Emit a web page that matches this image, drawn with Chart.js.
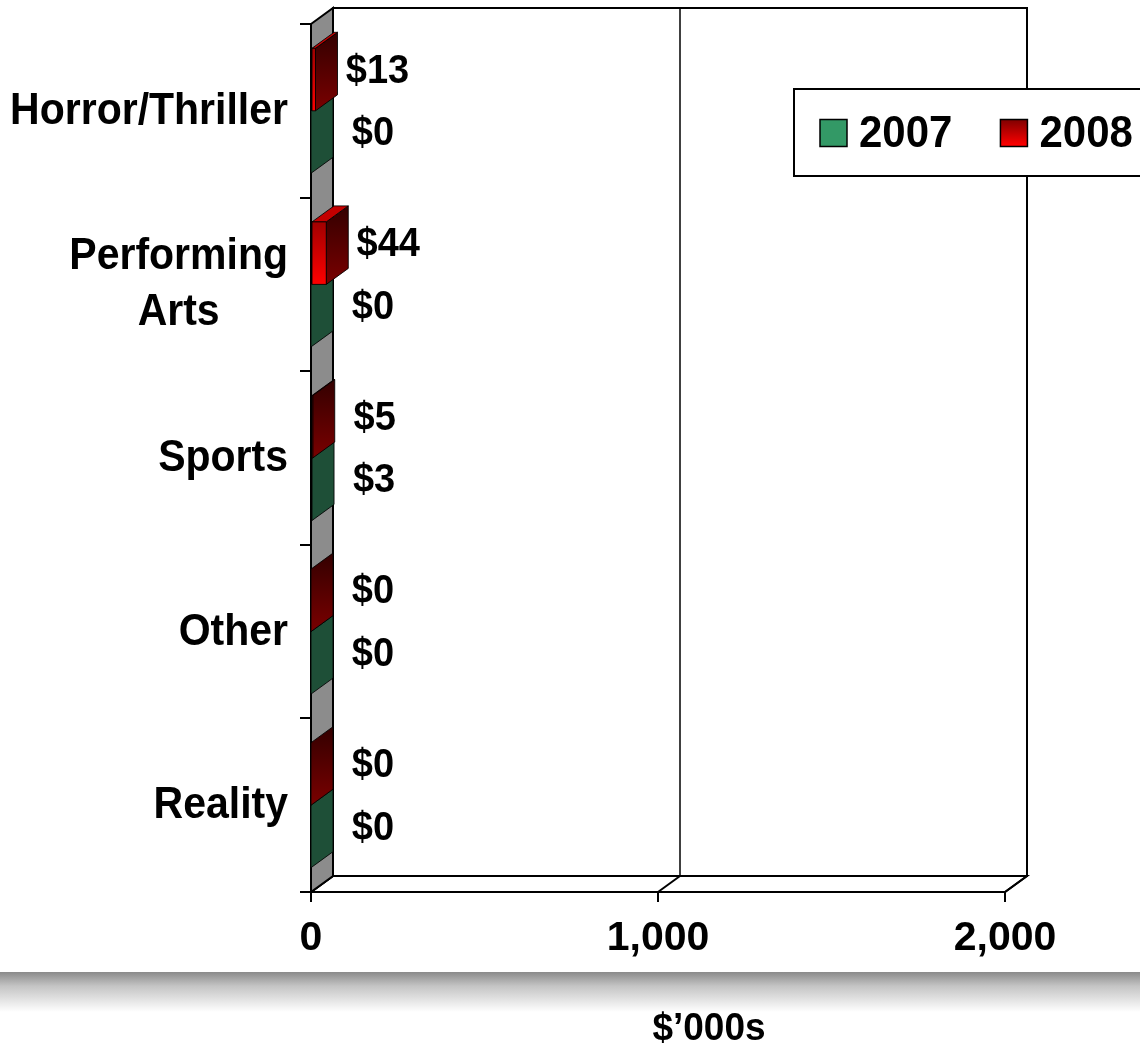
<!DOCTYPE html>
<html lang="en">
<head>
  <meta charset="UTF-8" />
  <title>Revenue by genre - 2007 vs 2008</title>
  <script src="https://cdn.jsdelivr.net/npm/chart.js"></script>
  <style>
    body {
      margin: 0;
      padding: 0;
      background: #fff;
      font-family: 'Liberation Sans', Arial, sans-serif;
    }

    #wrap {
      position: relative;
      width: 1140px;
      height: 1046px;
      overflow: hidden;
    }

    #band {
      position: absolute;
      left: 0;
      right: 0;
      top: 972px;
      height: 40px;
      background: linear-gradient(#8a8a8a, #c4c4c4 35%, #fff);
    }

    #chartBox {
      position: absolute;
      left: 0;
      top: 0;
      width: 1140px;
      height: 1046px;
    }
  </style>
</head>
<body>
  <div id="wrap">
    <div id="band"></div>
    <div id="chartBox">
      <canvas id="genreChart"></canvas>
    </div>
  </div>

  <script>
    const categories = ['Horror/Thriller', ['Performing', 'Arts'], 'Sports', 'Other', 'Reality'];
    const values2007 = [0, 0, 3, 0, 0];
    const values2008 = [13, 44, 5, 0, 0];
    const xTicks = [0, 1000, 2000];
    const axisTitle = '$\u2019000s';

    const FONT = "'Liberation Sans', Arial, sans-serif";
    const DX = 22;   // depth of the 3d box
    const DY = 16;
    const STRETCH = 1.06; // the original text is a bit taller than Arial

    // face colours of each series
    const looks = {
      '2007': { front: ['#339966', '#339966'], side: ['#1e4f37', '#1e4f37'], top: '#2b7d55', key: ['#339966', '#339966'] },
      '2008': { front: ['#a00000', '#ff0000'], side: ['#330000', '#7a0000'], top: '#c40000', key: ['#800000', '#ff0000'] }
    };

    function vgrad(ctx, y0, y1, c) {
      const g = ctx.createLinearGradient(0, y0, 0, y1);
      g.addColorStop(0, c[0]);
      g.addColorStop(1, c[1]);
      return g;
    }

    function poly(ctx, pts, fill) {
      ctx.beginPath();
      ctx.moveTo(pts[0][0], pts[0][1]);
      for (let i = 1; i < pts.length; i++) ctx.lineTo(pts[i][0], pts[i][1]);
      ctx.closePath();
      if (fill) { ctx.fillStyle = fill; ctx.fill(); }
      ctx.stroke();
    }

    function tallText(ctx, t, x, y) {
      ctx.save();
      ctx.translate(x, y);
      ctx.scale(1, STRETCH);
      ctx.fillText(t, 0, 0);
      ctx.restore();
    }

    const box3d = {
      id: 'box3d',
      beforeDatasetsDraw(chart) {
        const { ctx, chartArea: a, scales: { x } } = chart;
        ctx.save();
        ctx.strokeStyle = '#000';
        ctx.lineWidth = 2;

        // back wall
        ctx.fillStyle = '#fff';
        ctx.fillRect(a.left + DX, a.top - DY, a.right - a.left, a.bottom - a.top);
        ctx.strokeRect(a.left + DX, a.top - DY, a.right - a.left, a.bottom - a.top);
        ctx.lineWidth = 1.5;
        xTicks.forEach(v => {
          const px = x.getPixelForValue(v);
          if (v > 0 && v < x.max) {
            ctx.beginPath();
            ctx.moveTo(px + DX, a.top - DY);
            ctx.lineTo(px + DX, a.bottom - DY);
            ctx.stroke();
          }
        });

        // floor
        ctx.lineWidth = 2;
        poly(ctx, [[a.left, a.bottom], [a.right, a.bottom], [a.right + DX, a.bottom - DY], [a.left + DX, a.bottom - DY]], '#fff');
        xTicks.forEach(v => {
          const px = x.getPixelForValue(v);
          ctx.beginPath();
          ctx.moveTo(px, a.bottom);
          ctx.lineTo(px + DX, a.bottom - DY);
          ctx.stroke();
        });

        // side wall
        poly(ctx, [[a.left, a.top], [a.left + DX, a.top - DY], [a.left + DX, a.bottom - DY], [a.left, a.bottom]], '#8c8c8c');
        ctx.restore();
      },

      afterDatasetsDraw(chart) {
        const { ctx } = chart;
        const bars = [];
        chart.data.datasets.forEach((ds, i) => {
          chart.getDatasetMeta(i).data.forEach((el, j) => {
            const p = el.getProps(['x', 'y', 'base', 'height'], true);
            bars.push({ p, look: looks[ds.label], value: ds.data[j] });
          });
        });
        // lower bars first so upper ones cover their top faces
        bars.sort((a, b) => b.p.y - a.p.y);

        ctx.save();
        ctx.strokeStyle = 'rgba(0,0,0,0.85)';
        ctx.lineWidth = 1;
        ctx.lineJoin = 'round';
        bars.forEach(({ p, look }) => {
          const top = p.y - p.height / 2;
          const bot = p.y + p.height / 2;
          const l = Math.min(p.base, p.x);
          const r = Math.max(p.base, p.x);
          poly(ctx, [[r, top], [r + DX, top - DY], [r + DX, bot - DY], [r, bot]], vgrad(ctx, top - DY, bot, look.side));
          if (r - l > 0.5) {
            poly(ctx, [[l, top], [r, top], [r + DX, top - DY], [l + DX, top - DY]], look.top);
            ctx.fillStyle = vgrad(ctx, top, bot, look.front);
            ctx.fillRect(l, top, r - l, bot - top);
            ctx.strokeRect(l, top, r - l, bot - top);
          }
        });

        // value labels
        ctx.fillStyle = '#000';
        ctx.font = 'bold 38px ' + FONT;
        ctx.textAlign = 'center';
        ctx.textBaseline = 'middle';
        bars.forEach(({ p, value }) => {
          const r = Math.max(p.base, p.x);
          tallText(ctx, '$' + value, r + DX + 40, p.y - DY / 2);
        });
        ctx.restore();
      },

      afterDraw(chart) {
        const { ctx, chartArea: a, scales: { y } } = chart;
        ctx.save();
        ctx.fillStyle = '#000';
        ctx.textBaseline = 'middle';
        ctx.textAlign = 'center';

        // category names, multi-line blocks centred and right aligned
        ctx.font = 'bold 41px ' + FONT;
        chart.data.labels.forEach((lab, i) => {
          const lines = Array.isArray(lab) ? lab : [lab];
          const w = Math.max(...lines.map(t => ctx.measureText(t).width));
          const cx = a.left - 23 - w / 2;
          const yc = y.getPixelForValue(i) + 1;
          lines.forEach((t, k) => {
            tallText(ctx, t, cx, yc + (k - (lines.length - 1) / 2) * 56);
          });
        });

        // axis title
        ctx.font = 'bold 37px ' + FONT;
        tallText(ctx, axisTitle, (a.left + a.right) / 2 + 51, 1029);

        // legend
        const lx = 794, ly = 89, lh = 87;
        ctx.strokeStyle = '#000';
        ctx.lineWidth = 2;
        ctx.fillStyle = '#fff';
        ctx.fillRect(lx, ly, 360, lh);
        ctx.strokeRect(lx, ly, 360, lh);
        ctx.font = 'bold 42px ' + FONT;
        ctx.textAlign = 'left';
        let cx = lx + 26;
        const cy = ly + lh / 2;
        chart.data.datasets.slice().reverse().forEach(ds => {
          const look = looks[ds.label];
          ctx.fillStyle = vgrad(ctx, cy - 13, cy + 13, look.key);
          ctx.fillRect(cx, cy - 13, 27, 27);
          ctx.lineWidth = 1.5;
          ctx.strokeRect(cx, cy - 13, 27, 27);
          ctx.fillStyle = '#000';
          tallText(ctx, ds.label, cx + 39, cy + 2);
          cx += 39 + ctx.measureText(ds.label).width + 48;
        });
        ctx.restore();
      }
    };

    new Chart(document.getElementById('genreChart'), {
      type: 'bar',
      data: {
        labels: categories,
        datasets: [
          { label: '2008', data: values2008, backgroundColor: '#c00000', borderWidth: 0 },
          { label: '2007', data: values2007, backgroundColor: '#339966', borderWidth: 0 }
        ]
      },
      options: {
        indexAxis: 'y',
        responsive: true,
        maintainAspectRatio: false,
        animation: false,
        locale: 'en-US',
        layout: { padding: { top: 24, right: 135, left: 0, bottom: 0 } },
        datasets: { bar: { categoryPercentage: 0.72, barPercentage: 1 } },
        plugins: {
          legend: { display: false },
          tooltip: { enabled: false }
        },
        scales: {
          x: {
            type: 'linear',
            min: 0,
            max: 2000,
            afterBuildTicks: s => { s.ticks = xTicks.map(v => ({ value: v })); },
            ticks: {
              color: '#000',
              padding: 12,
              maxRotation: 0,
              font: { family: FONT, size: 41, weight: 'bold' }
            },
            grid: { drawOnChartArea: false, drawTicks: true, tickLength: 10, color: '#000', lineWidth: 2 },
            border: { display: true, color: '#000', width: 2 },
            afterFit: s => { s.height = 1046 - 892; }
          },
          y: {
            type: 'category',
            ticks: { display: false },
            grid: { offset: true, drawOnChartArea: false, drawTicks: true, tickLength: 11, color: '#000', lineWidth: 2 },
            border: { display: true, color: '#000', width: 2 },
            afterFit: s => { s.width = 311; }
          }
        }
      },
      plugins: [box3d]
    });
  </script>
</body>
</html>
